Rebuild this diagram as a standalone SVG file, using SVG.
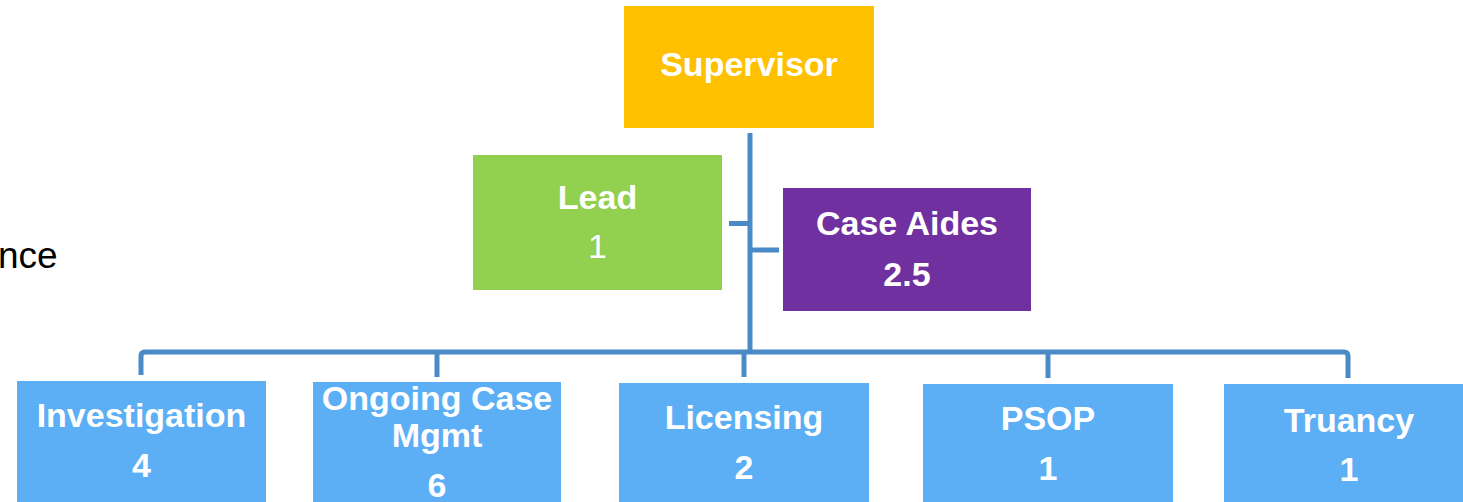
<svg xmlns="http://www.w3.org/2000/svg" width="1463" height="502" viewBox="0 0 1463 502">
  <style>
    .lbl { font-family: "Liberation Sans", Arial, sans-serif; font-size: 34px; font-weight: bold; fill: #FFFFFF; text-anchor: middle; }
    .thin { font-weight: normal; }
    .wire { fill: none; stroke: #4A8AC6; stroke-width: 5; stroke-linejoin: round; }
    .team { fill: #5CAFF5; }
  </style>
  <rect width="1463" height="502" fill="#FFFFFF"/>

  <text x="-2" y="268" font-family="Liberation Sans, Arial, sans-serif" font-size="37" fill="#000000">nce</text>

  <!-- connectors -->
  <g id="connectors">
    <path class="wire" d="M750,133 V353"/>
    <path class="wire" d="M729,223.5 H750"/>
    <path class="wire" d="M750,250 H779"/>
    <path class="wire" d="M141,375 V356 Q141,352 145,352 H1344 Q1348,352 1348,356 V378"/>
    <path class="wire" d="M437,352 V377"/>
    <path class="wire" d="M744,352 V377"/>
    <path class="wire" d="M1048,352 V378"/>
  </g>

  <g id="supervisor">
    <rect x="624" y="6" width="250" height="122" fill="#FFC000"/>
    <text class="lbl" x="749" y="76">Supervisor</text>
  </g>

  <g id="lead">
    <rect x="473" y="155" width="249" height="135" fill="#92D050"/>
    <text class="lbl" x="597.5" y="209">Lead</text>
    <text class="lbl thin" x="597.5" y="258">1</text>
  </g>

  <g id="case-aides">
    <rect x="783" y="188" width="248" height="123" fill="#7030A0"/>
    <text class="lbl" x="907" y="235">Case Aides</text>
    <text class="lbl" x="907" y="286">2.5</text>
  </g>

  <g id="investigation">
    <rect class="team" x="17" y="381" width="249" height="130"/>
    <text class="lbl" x="141.5" y="427">Investigation</text>
    <text class="lbl" x="141.5" y="477">4</text>
  </g>

  <g id="ongoing-case-mgmt">
    <rect class="team" x="313" y="382" width="248" height="130"/>
    <text class="lbl" x="437" y="410">Ongoing Case</text>
    <text class="lbl" x="437" y="447">Mgmt</text>
    <text class="lbl" x="437" y="497">6</text>
  </g>

  <g id="licensing">
    <rect class="team" x="619" y="383" width="250" height="130"/>
    <text class="lbl" x="744" y="429">Licensing</text>
    <text class="lbl" x="744" y="479">2</text>
  </g>

  <g id="psop">
    <rect class="team" x="923" y="384" width="250" height="130"/>
    <text class="lbl" x="1048" y="430">PSOP</text>
    <text class="lbl" x="1048" y="480">1</text>
  </g>

  <g id="truancy">
    <rect class="team" x="1224" y="384" width="250" height="130"/>
    <text class="lbl" x="1349" y="432">Truancy</text>
    <text class="lbl" x="1349" y="481">1</text>
  </g>
</svg>
